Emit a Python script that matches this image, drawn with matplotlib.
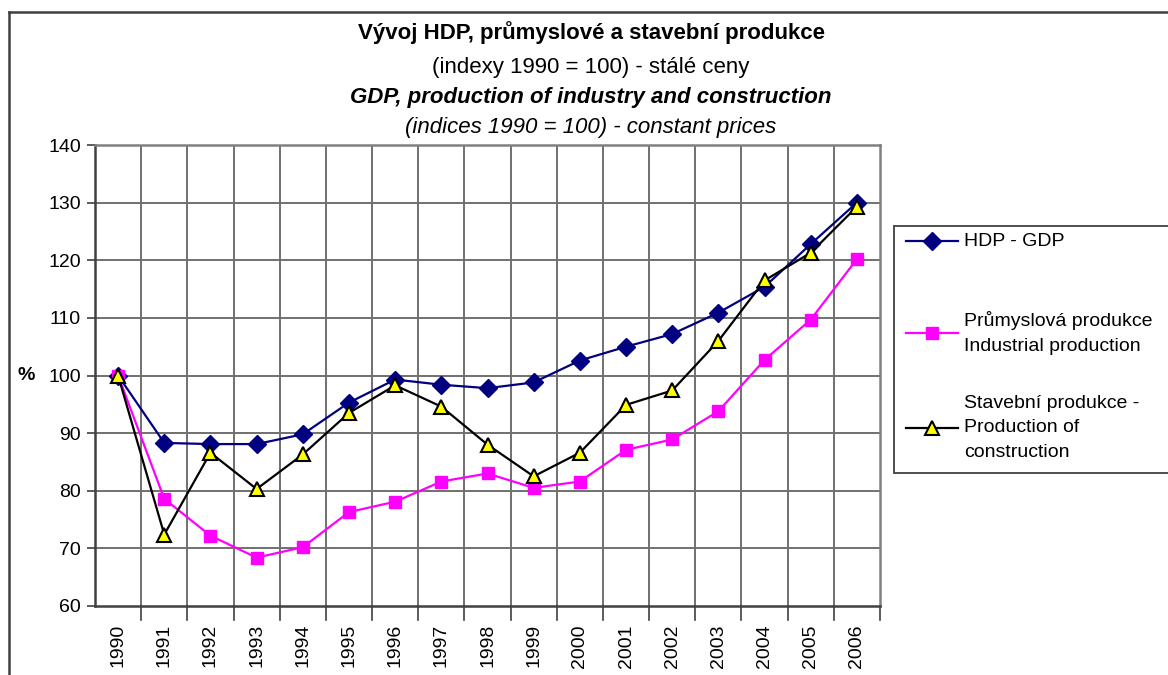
import matplotlib.pyplot as plt
from matplotlib.lines import Line2D
from matplotlib.patches import Rectangle

plt.rcParams['font.family'] = ['Liberation Sans', 'DejaVu Sans']

# ============================================================
# Data (indices 1990 = 100)
# ============================================================

years = [str(y) for y in range(1990, 2007)]

gdp = [100, 88.3, 88.1, 88.1, 89.8, 95.3, 99.3, 98.4, 97.8, 98.8,
       102.6, 105.0, 107.2, 110.9, 115.4, 122.8, 130.0]
industry = [100, 78.6, 72.2, 68.4, 70.2, 76.3, 78.1, 81.6, 83.0, 80.5,
            81.6, 87.1, 88.9, 93.8, 102.7, 109.7, 120.2]
construction = [100, 72.4, 86.6, 80.3, 86.3, 93.5, 98.3, 94.6, 88.0, 82.5,
                86.6, 94.9, 97.4, 106.0, 116.5, 121.3, 129.3]

y_ticks = [60, 70, 80, 90, 100, 110, 120, 130, 140]

legend_labels = [
    "HDP - GDP",
    "Průmyslová produkce\nIndustrial production",
    "Stavební produkce -\nProduction of\nconstruction",
]

# ============================================================
# Figure
# ============================================================

W, H = 1168, 675
fig = plt.figure(figsize=(W / 100, H / 100), dpi=100)

ax = fig.add_axes([95 / W, 1 - 606 / H, (880 - 95) / W, (606 - 145) / H])

x = list(range(len(years)))

styles = [
    dict(color="#000080", marker="D", markersize=9, markerfacecolor="#000080",
         markeredgecolor="#000080"),
    dict(color="#FF00FF", marker="s", markersize=8.5, markerfacecolor="#FF00FF",
         markeredgecolor="#FF00FF"),
    dict(color="#000000", marker="^", markersize=10.5, markerfacecolor="#FFFF00",
         markeredgecolor="#000000", markeredgewidth=1.5),
]

for series, st in zip([gdp, industry, construction], styles):
    ax.plot(x, series, linewidth=1.6, zorder=3, clip_on=False, **st)

ax.set_xlim(-0.5, len(years) - 0.5)
ax.set_ylim(60, 140)
ax.set_yticks(y_ticks)
ax.set_yticklabels([str(v) for v in y_ticks], fontsize=14)

ax.set_xticks(x)
ax.set_xticklabels(years, rotation=90, fontsize=14)
ax.tick_params(axis="x", length=0, pad=13)
ax.tick_params(axis="y", length=6, width=1.2, color="#404040", pad=4)

# category boundaries for vertical grid and x ticks
bounds = [i - 0.5 for i in range(len(years) + 1)]
for b in bounds[1:-1]:
    ax.axvline(b, color="#707070", linewidth=1.4, zorder=1)
    ax.plot([b, b], [60, 57.5], color="#404040", linewidth=1.2, clip_on=False)
ax.plot([bounds[-1], bounds[-1]], [60, 57.5], color="#404040", linewidth=1.2,
        clip_on=False)
for v in y_ticks[1:-1]:
    ax.axhline(v, color="#707070", linewidth=1.4, zorder=1)

for side in ["top", "right"]:
    ax.spines[side].set_color("#808080")
    ax.spines[side].set_linewidth(1.8)
for side in ["left", "bottom"]:
    ax.spines[side].set_color("#404040")
    ax.spines[side].set_linewidth(1.8)

fig.text(18 / W, 1 - 375 / H, "%", fontsize=14, fontweight="bold",
         ha="left", va="center")

# ============================================================
# Titles
# ============================================================

cx = 591 / W
fig.text(cx, 1 - 33 / H, "Vývoj HDP, průmyslové a stavební produkce",
         fontsize=16, fontweight="bold", ha="center", va="center")
fig.text(cx, 1 - 67 / H, "(indexy 1990 = 100) - stálé ceny",
         fontsize=16, ha="center", va="center")
fig.text(cx, 1 - 97 / H, "GDP, production of industry and construction",
         fontsize=16, fontweight="bold", style="italic", ha="center",
         va="center")
fig.text(cx, 1 - 128 / H, "(indices 1990 = 100) - constant prices",
         fontsize=16, style="italic", ha="center", va="center")

# outer frame (top and left edges visible)
fig.add_artist(Line2D([9 / W, 9 / W], [0, 1 - 12 / H], transform=fig.transFigure,
                      color="#404040", linewidth=1.8))
fig.add_artist(Line2D([9 / W, 1], [1 - 12 / H, 1 - 12 / H],
                      transform=fig.transFigure, color="#404040",
                      linewidth=1.8))

# ============================================================
# Legend (drawn by hand to match spacing)
# ============================================================

fig.add_artist(Rectangle((894 / W, 1 - 473 / H), (1170 - 894) / W,
                         (473 - 226) / H, transform=fig.transFigure,
                         facecolor="white", edgecolor="#404040",
                         linewidth=1.3))

entry_y = [241, 333, 428]
for lab, st, yy in zip(legend_labels, styles, entry_y):
    yf = 1 - yy / H
    fig.add_artist(Line2D([906 / W, 932 / W, 958 / W], [yf, yf, yf],
                          transform=fig.transFigure, linewidth=1.6,
                          markevery=[1], **st))
    fig.text(964 / W, yf, lab, fontsize=14, ha="left", va="center",
             linespacing=1.55)

fig.savefig("out.png", dpi=100)
